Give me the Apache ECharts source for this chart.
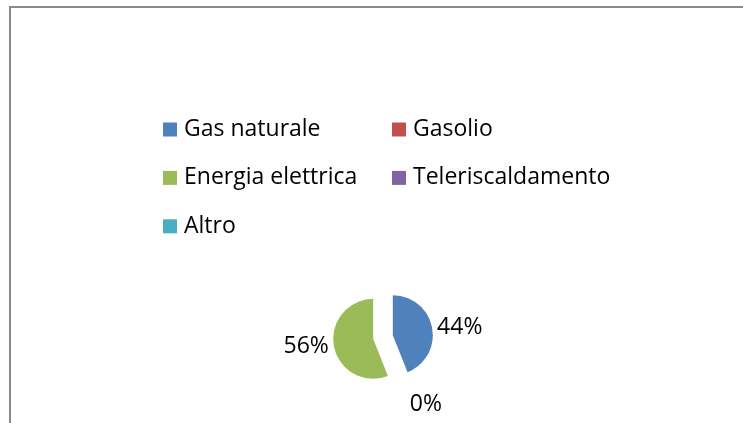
<!DOCTYPE html>
<html>
<head>
<meta charset="utf-8">
<script src="https://cdn.jsdelivr.net/npm/echarts@6/dist/echarts.min.js"></script>
<style>
html,body{margin:0;padding:0;background:#fff;}
#chart{width:743px;height:423px;}
</style>
</head>
<body>
<div id="chart"></div>
<script>
const categories = ['Gas naturale', 'Gasolio', 'Energia elettrica', 'Teleriscaldamento', 'Altro'];
const values = [44, 0, 56, 0, 0];
const colors = ['#4F81BD', '#C0504D', '#9BBB59', '#8064A2', '#4BACC6'];
const legendCol1 = ['Gas naturale', 'Energia elettrica', 'Altro'];
const legendCol2 = ['Gasolio', 'Teleriscaldamento'];
const explodedItems = ['Gas naturale', 'Energia elettrica'];
const hiddenLabelItems = ['Teleriscaldamento', 'Altro'];

const FONT = '"Open Sans", "Liberation Sans", sans-serif';
const chart = echarts.init(document.getElementById('chart'), null, {renderer: 'canvas'});

const legendBase = {
  orient: 'vertical',
  top: 115.5,
  padding: 0,
  itemWidth: 14,
  itemHeight: 14,
  itemGap: 20.4,
  icon: 'rect',
  selectedMode: false,
  textStyle: {fontFamily: FONT, fontSize: 23, color: '#000', lineHeight: 28, padding: [0, 0, 0, 2]}
};

const data = categories.map((name, i) => {
  const item = {name: name, value: values[i], itemStyle: {color: colors[i]}};
  if (explodedItems.includes(name)) item.selected = true;
  if (hiddenLabelItems.includes(name)) item.label = {show: false};
  if (name === 'Gasolio') {
    item.labelLine = {show: false, length: 33, length2: 0};
    item.label = {distanceToLabelLine: 0};
  }
  return item;
});

chart.setOption({
  animation: false,
  backgroundColor: '#fff',
  color: colors,
  graphic: [{
    type: 'rect',
    shape: {x: 10, y: 7, width: 900, height: 600},
    style: {fill: 'none', stroke: '#8a8a8a', lineWidth: 2},
    silent: true,
    z: -1
  }],
  legend: [
    Object.assign({}, legendBase, {left: 163, data: legendCol1}),
    Object.assign({}, legendBase, {left: 392, data: legendCol2})
  ],
  series: [{
    type: 'pie',
    center: [383, 337],
    radius: 40,
    startAngle: 90,
    clockwise: true,
    selectedMode: 'multiple',
    selectedOffset: 10,
    avoidLabelOverlap: false,
    emphasis: {disabled: true},
    label: {
      show: true,
      position: 'outside',
      formatter: '{d}%',
      fontFamily: FONT,
      fontSize: 23,
      color: '#000',
      distanceToLabelLine: 5
    },
    labelLine: {show: false, length: 0, length2: 0},
    data: data
  }]
});
</script>
</body>
</html>
